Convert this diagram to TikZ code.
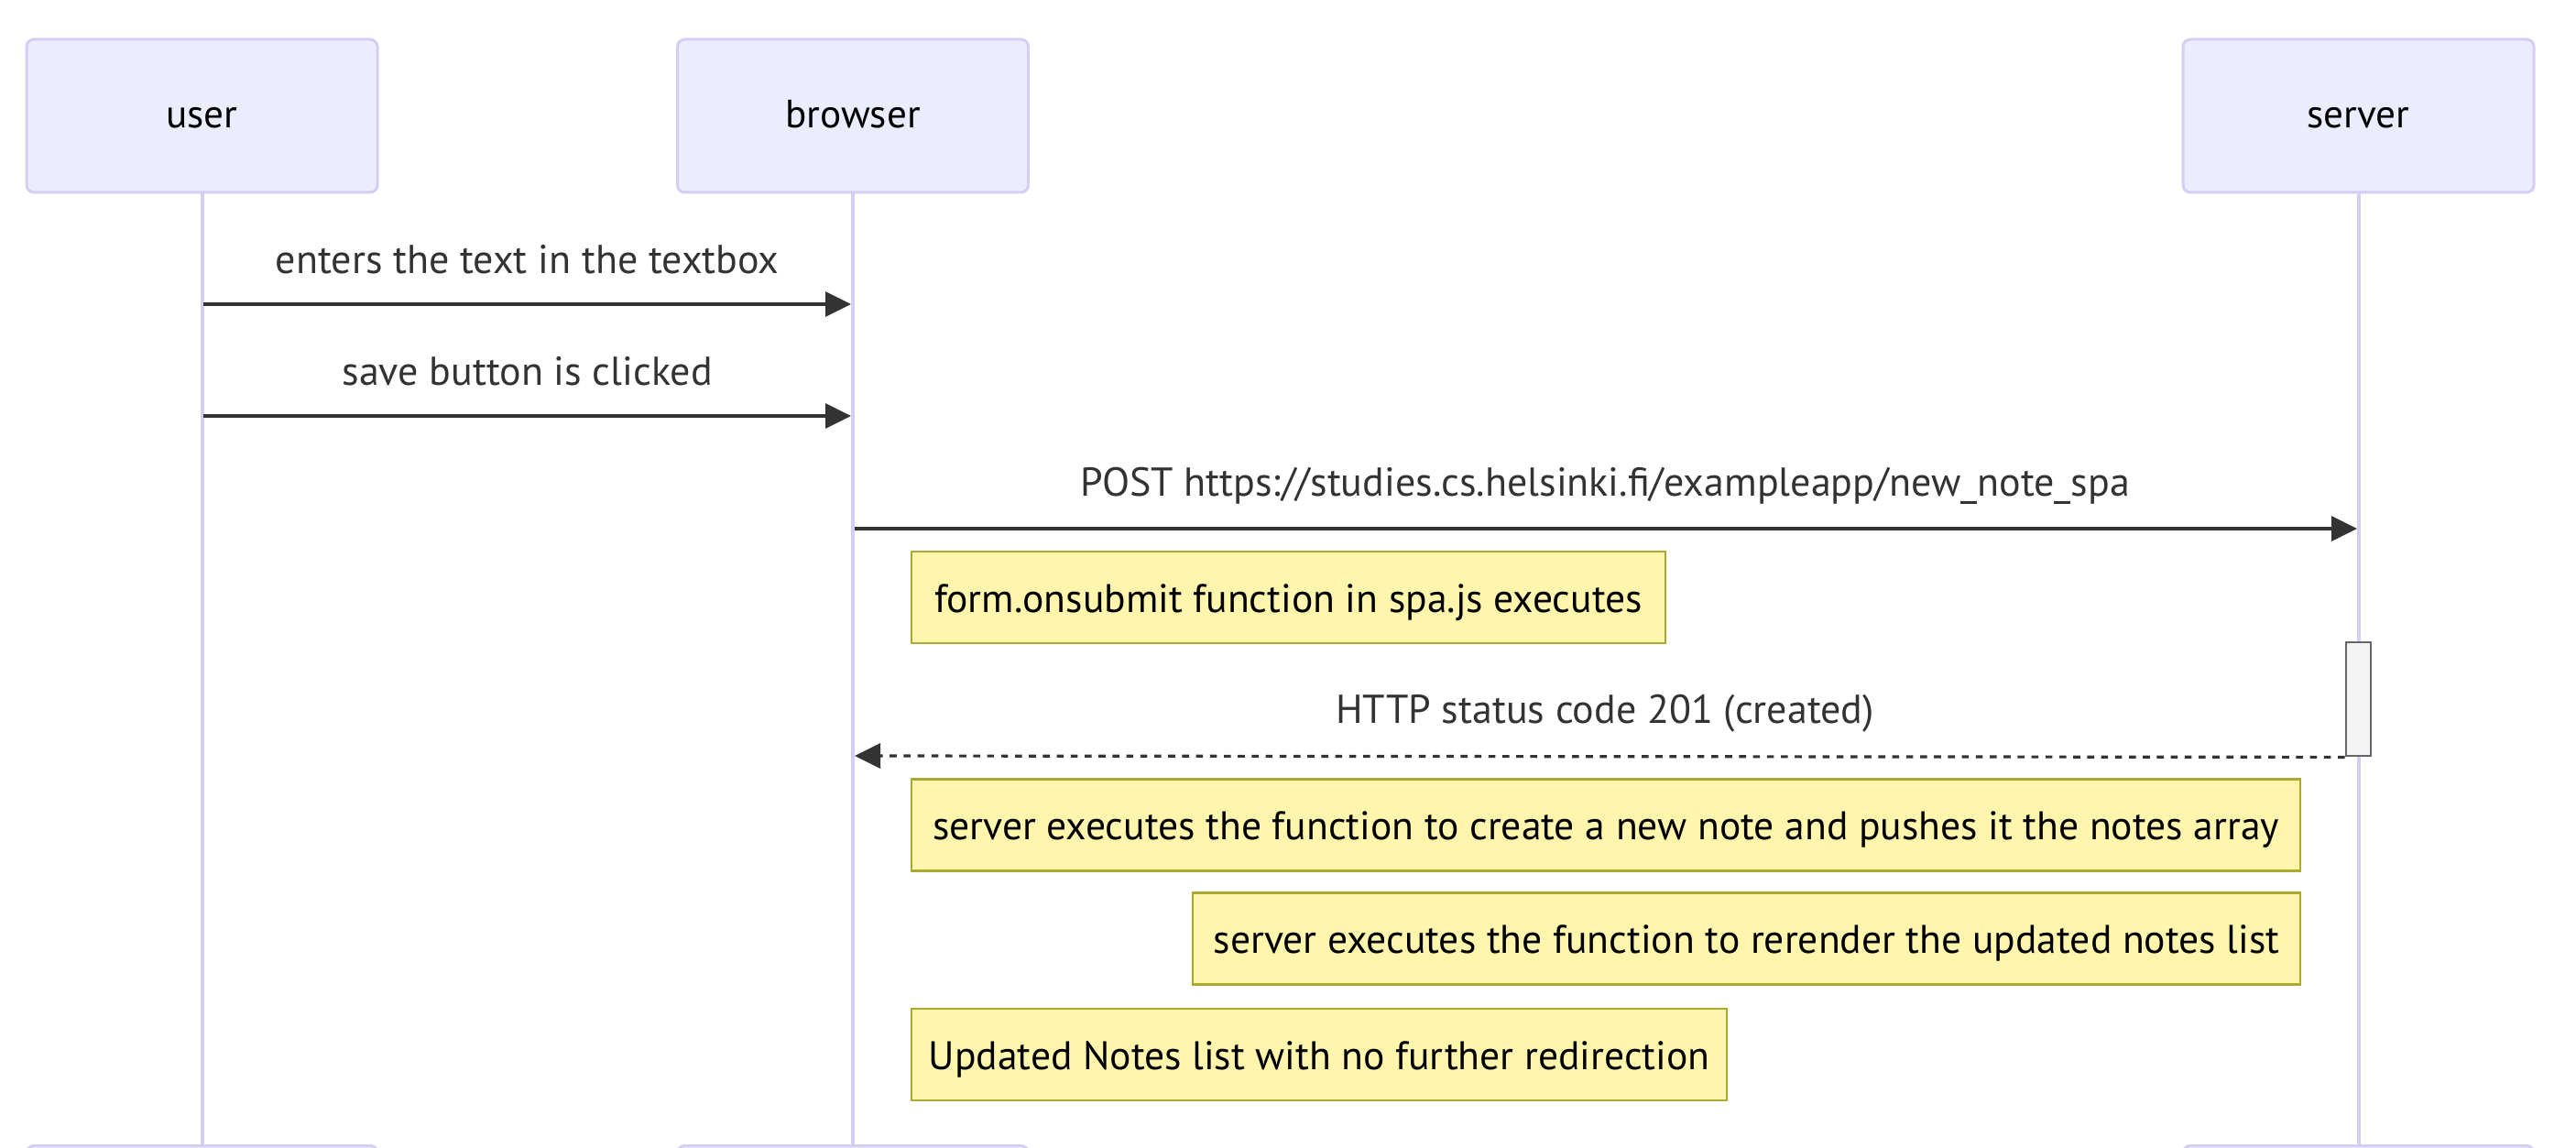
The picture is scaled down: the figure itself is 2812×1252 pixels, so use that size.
\documentclass[tikz,border=0pt]{standalone}
\usepackage{fontspec}
\setmainfont{PT Sans}
\usetikzlibrary{arrows.meta}
\definecolor{actfill}{HTML}{ECECFF}
\definecolor{actline}{HTML}{D6CEF2}
\definecolor{notefill}{HTML}{FFF5AD}
\definecolor{noteline}{HTML}{AAAA33}
\definecolor{msgcol}{HTML}{333333}
\definecolor{actvfill}{HTML}{F4F4F4}
\definecolor{actvline}{HTML}{666666}
\begin{document}
\begin{tikzpicture}[x=0.25pt,y=-0.25pt,
  actorbox/.style={draw=actline, fill=actfill, line width=0.75pt, rounded corners=2pt,
    minimum width=95.75pt, minimum height=41.75pt, inner sep=0pt},
  actortext/.style={anchor=base, inner sep=0pt, font=\fontsize{10.8}{13}\selectfont, text=black},
  lifeline/.style={draw=actline, line width=1pt},
  msg/.style={draw=msgcol, line width=0.8pt, -{Triangle[length=7pt,width=6.75pt]}},
  msgdash/.style={msg, dash pattern=on 1.9pt off 1.9pt},
  msgtext/.style={anchor=base, inner sep=0pt, font=\fontsize{11}{13}\selectfont, text=msgcol},
  notebox/.style={draw=noteline, fill=notefill, line width=0.7pt, inner sep=0pt, minimum height=25pt},
  notetext/.style={anchor=base, inner sep=0pt, font=\fontsize{10.9}{13}\selectfont, text=black},
  actv/.style={draw=actvline, fill=actvfill, line width=0.7pt}
]
\useasboundingbox (0,0) rectangle (2812,1252);
\clip (0,0) rectangle (2812,1252);
\fill[white] (0,0) rectangle (2812,1252);

% actors (top)
\node[actorbox] (ut) at (220.5,126.5) {};
\node[actorbox] (bt) at (931,126.5) {};
\node[actorbox] (st) at (2574.5,126.5) {};
\node[actortext] (utl) at (220.5,140) {user};
\node[actortext] (btl) at (931,140) {browser};
\node[actortext] (stl) at (2574.5,140) {server};

% actors (bottom, cut off)
\node[actorbox] (ub) at (220.5,1334) {};
\node[actorbox] (bb) at (931,1334) {};
\node[actorbox] (sb) at (2574.5,1334) {};

% lifelines
\draw[lifeline] (ut.south) -- (ub.north);
\draw[lifeline] (bt.south) -- (bb.north);
\draw[lifeline] (st.south) -- (sb.north);

% coordinates on lifelines
\coordinate (u1) at (222,332);
\coordinate (b1) at (929,332);
\coordinate (u2) at (222,454);
\coordinate (b2) at (929,454);
\coordinate (b3) at (933,577);
\coordinate (s3) at (2573,577);
\coordinate (b4) at (933,825);

% messages
\draw[msg] (u1) -- (b1);
\node[msgtext] (m1) at (575.7,298) {enters the text in the textbox};
\draw[msg] (u2) -- (b2);
\node[msgtext] (m2) at (575.7,420) {save button is clicked};
\draw[msg] (b3) -- (s3);
\node[msgtext] (m3) at (1752,541) {POST https://studies.cs.helsinki.fi/exampleapp/new\_note\_spa};

% note 1
\node[notebox, minimum width=205.75pt] (n1) at (1406.5,652) {};
\node[notetext] (n1t) at (1406.5,668) {form.onsubmit function in spa.js executes};

% activation
\node[actv, minimum width=6.75pt, minimum height=31pt, inner sep=0pt] (act) at (2574.5,763) {};
\draw[msgdash] (act.south west) -- (b4);
\node[msgtext] (m4) at (1752,789) {HTTP status code 201 (created)};

% notes
\node[notebox, minimum width=379pt] (n2) at (1753,900.5) {};
\node[notetext] (n2t) at (1753,916.5) {server executes the function to create a new note and pushes it the notes array};
\node[notebox, minimum width=302.25pt] (n3) at (1906.5,1024.5) {};
\node[notetext] (n3t) at (1906.5,1040.5) {server executes the function to rerender the updated notes list};
\node[notebox, minimum width=222.5pt] (n4) at (1440,1151) {};
\node[notetext] (n4t) at (1440,1167) {Updated Notes list with no further redirection};
\end{tikzpicture}
\end{document}
